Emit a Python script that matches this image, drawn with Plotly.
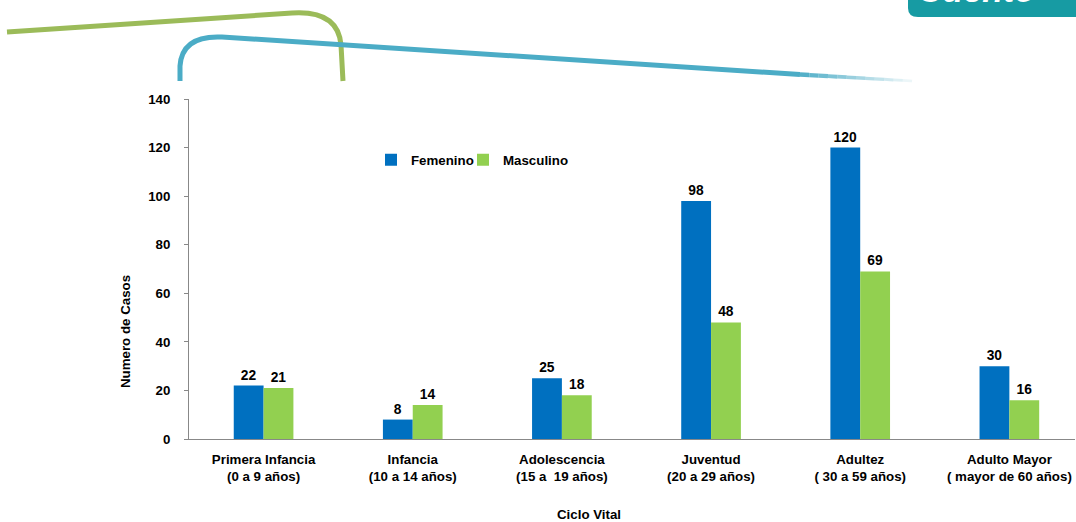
import plotly.graph_objects as go

# Life-cycle groups and case counts by sex
categorias = [
    "Primera Infancia<br>(0 a 9 años)",
    "Infancia<br>(10 a 14 años)",
    "Adolescencia<br>(15 a  19 años)",
    "Juventud<br>(20 a 29 años)",
    "Adultez<br>( 30 a 59 años)",
    "Adulto Mayor<br>( mayor de 60 años)",
]
femenino = [22, 8, 25, 98, 120, 30]
masculino = [21, 14, 18, 48, 69, 16]
y_ticks = [0, 20, 40, 60, 80, 100, 120, 140]

FONT = "Liberation Sans, Arial, sans-serif"
W, H = 1076, 522
M_L, M_R, M_T, M_B = 189, 1, 99, 83
FS = 13.3


def px(x, y):
    """Pixel position on the page -> paper coordinates."""
    pw = W - M_L - M_R
    ph = H - M_T - M_B
    return (x - M_L) / pw, (H - M_B - y) / ph


def path(cmds):
    out = []
    for c in cmds:
        if isinstance(c, str):
            out.append(c)
        else:
            xx, yy = px(*c)
            out.append(f"{xx:.5f},{yy:.5f}")
    return " ".join(out)


bold = dict(family=FONT, size=FS, color="#000000", weight="bold")

fig = go.Figure()
fig.add_trace(go.Bar(
    x=categorias, y=femenino, name="Femenino", legend="legend",
    marker=dict(color="#0070C0", line=dict(width=0)),
    text=femenino, textposition="outside", cliponaxis=False,
    textfont=dict(bold, size=13.8),
))
fig.add_trace(go.Bar(
    x=categorias, y=masculino, name="Masculino", legend="legend2",
    marker=dict(color="#92D050", line=dict(width=0)),
    text=masculino, textposition="outside", cliponaxis=False,
    textfont=dict(bold, size=13.8),
))

# Decorative header strokes
green_path = path(["M", (7, 32), "L", (292, 13), "Q", (338, 10), (341, 45), "L", (343, 81)])
blue_path = path(["M", (180, 81), "L", (180, 66), "Q", (182, 35), (222, 37), "L", (800, 74.5)])
shapes = [
    dict(type="path", xref="paper", yref="paper", path=green_path,
         line=dict(color="#9BBB59", width=5), layer="below"),
    dict(type="path", xref="paper", yref="paper", path=blue_path,
         line=dict(color="#4BACC6", width=5), layer="below"),
]
# Fading tail of the blue stroke
n_tail = 12
tail_start, tail_end = 800, 912
for i in range(n_tail):
    x0 = tail_start + (tail_end - tail_start) * i / n_tail
    x1 = tail_start + (tail_end - tail_start) * (i + 1) / n_tail
    y0 = 74.5 + (x0 - tail_start) * 0.058
    y1 = 74.5 + (x1 - tail_start) * 0.058
    shapes.append(dict(type="path", xref="paper", yref="paper",
                       path=path(["M", (x0, y0), "L", (x1, y1)]),
                       line=dict(color="#4BACC6", width=4.5 - 2.0 * i / n_tail),
                       opacity=0.95 - 0.85 * i / (n_tail - 1), layer="below"))

# Logo banner in the top-right corner (rounded lower-left corner)
logo_path = path(["M", (908, -5), "L", (908, 8), "Q", (908, 17), (918, 17),
                  "L", (1080, 17), "L", (1080, -5), "Z"])
shapes.append(dict(type="path", xref="paper", yref="paper", path=logo_path,
                   fillcolor="#179BA3", line=dict(width=0), layer="below"))

annotations = []
tx, ty = px(916, 11)
annotations.append(dict(text="<i>Cuento</i>", xref="paper", yref="paper", x=tx, y=ty,
                        xanchor="left", yanchor="bottom", showarrow=False,
                        font=dict(family=FONT, size=34, color="#FFFFFF", weight="bold")))
ax, ay = px(589, 514)
annotations.append(dict(text="Ciclo Vital", xref="paper", yref="paper", x=ax, y=ay,
                        xanchor="center", yanchor="middle", showarrow=False,
                        font=bold))
bx, by = px(125, 332)
annotations.append(dict(text="Numero de Casos", xref="paper", yref="paper", x=bx, y=by,
                        xanchor="center", yanchor="middle", showarrow=False, textangle=-90,
                        font=bold))

lg1x, lgy = px(371, 160)
lg2x, _ = px(463, 160)
legend_style = dict(orientation="h", y=lgy, xanchor="left", yanchor="middle",
                    bgcolor="rgba(0,0,0,0)", font=bold)
fig.update_layout(
    width=W, height=H,
    margin=dict(l=M_L, r=M_R, t=M_T, b=M_B),
    paper_bgcolor="#FFFFFF", plot_bgcolor="rgba(0,0,0,0)",
    barmode="group", bargap=0.6, bargroupgap=0,
    font=dict(family=FONT, color="#000000"),
    showlegend=True,
    legend=dict(legend_style, x=lg1x),
    legend2=dict(legend_style, x=lg2x),
    shapes=shapes,
    annotations=annotations,
    xaxis=dict(range=[-0.5, 5.44], showline=True, linecolor="#888888", linewidth=1,
               ticks="", showgrid=False, zeroline=False, tickfont=bold,
               ticklabelstandoff=8),
    yaxis=dict(range=[0, 140], tickvals=y_ticks, showline=True, linecolor="#888888",
               linewidth=1, ticks="outside", ticklen=4, tickcolor="#888888",
               ticklabelstandoff=11,
               showgrid=False, zeroline=False, tickfont=bold),
)

fig.write_html("out.html")
